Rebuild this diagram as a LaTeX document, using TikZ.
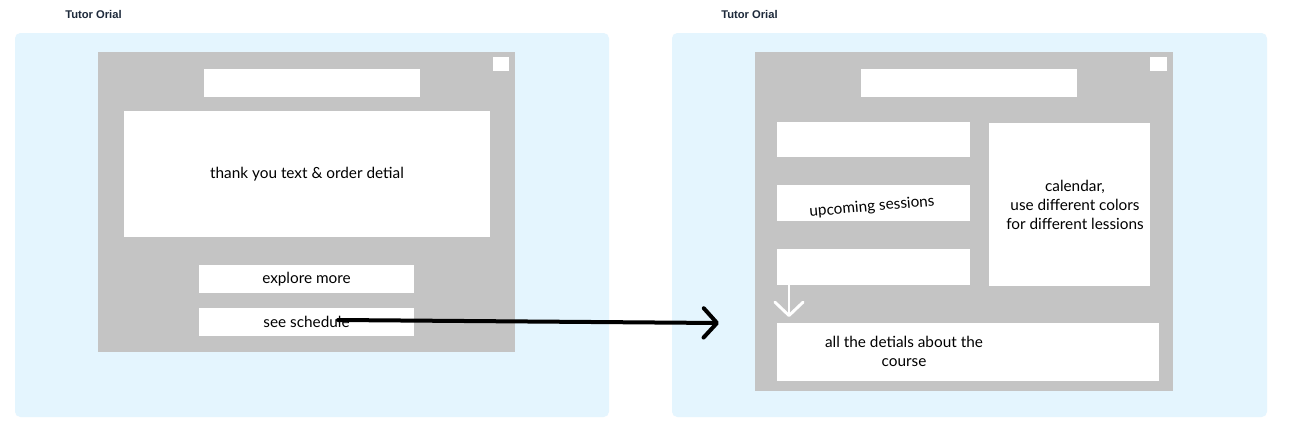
\documentclass[tikz,border=0pt]{standalone}
\usepackage{fontspec}
\setmainfont{Lato}
\newfontfamily\titlefont{Liberation Sans}
\usetikzlibrary{fit,arrows.meta}
\definecolor{panelblue}{HTML}{E4F5FE}
\definecolor{framegray}{HTML}{C4C4C4}
\definecolor{titlenavy}{HTML}{1E2A3B}
\begin{document}
\begin{tikzpicture}[x=0.75pt,y=-0.75pt,
  panel/.style={fill=panelblue, draw=none, rounded corners=4pt, inner sep=0pt},
  frame/.style={fill=framegray, draw=none, inner sep=0pt},
  wbox/.style={fill=white, draw=none, inner sep=0pt},
  plaintext/.style={inner sep=0pt, align=center, font=\fontsize{11.5}{14.2}\selectfont},
  screentitle/.style={inner sep=0pt, anchor=west, text=titlenavy, font=\titlefont\bfseries\fontsize{8.4}{10}\selectfont},
  linkarrow/.style={line width=3pt, line cap=round, line join=round, black, -{Straight Barb[length=10pt,width=22pt,round]}},
  flowarrow/.style={line width=2.2pt, line cap=round, line join=round, white, -{Straight Barb[length=10pt,width=21pt,round]}}
]
\useasboundingbox (0,0) rectangle (1290,440);
\fill[white] (0,0) rectangle (1290,440);

% ---------- left screen ----------
\node[screentitle] (t1) at (65,14) {Tutor Orial};
\node[panel, fit={(15,33)(609,417)}] (p1) {};
\node[frame, fit={(98,52)(515,352)}] (f1) {};
\node[wbox, fit={(493,57)(509,71)}] (c1) {};
\node[wbox, fit={(204,69)(420,97)}] (h1) {};
\node[wbox, fit={(124,111)(490,237)}] (thank) {};
\node[plaintext] (thanktext) at (thank.center) {thank you text \& order detial};
\node[wbox, fit={(199,265)(414,293)}] (explore) {};
\node[plaintext] (exploretext) at (explore.center) {explore more};
\node[wbox, fit={(199,308)(414,336)}] (sched) {};
\node[plaintext] (schedtext) at (sched.center) {see schedule};

% ---------- right screen ----------
\node[screentitle] (t2) at (721,14) {Tutor Orial};
\node[panel, fit={(672,33)(1267,417)}] (p2) {};
\node[frame, fit={(755,52)(1173,391)}] (f2) {};
\node[wbox, fit={(1150,57)(1167,71)}] (c2) {};
\node[wbox, fit={(861,69)(1077,97)}] (h2) {};
\node[wbox, fit={(777,122)(970,157)}] (b1) {};
\node[wbox, fit={(777,185)(970,221)}] (b2) {};
\node[wbox, fit={(777,249)(970,285)}] (b3) {};
\node[wbox, fit={(989,123)(1150,286)}] (cal) {};
\node[plaintext] (caltext) at (1075,205) {calendar,\\use different colors\\for different lessions};
\node[plaintext, rotate=5] (upc) at (872,207) {upcoming sessions};
\node[wbox, fit={(777,323)(1159,381)}] (details) {};
\node[plaintext] (dettext) at (904,351) {all the detials about the\\course};

% ---------- connectors ----------
\coordinate (arrS) at (338,320);
\coordinate (arrE) at (719,323);
\draw[linkarrow] (arrS) -- (arrE);
\coordinate (downE) at (789,317);
\draw[flowarrow] (b3.south -| downE) -- (downE);
\end{tikzpicture}
\end{document}
